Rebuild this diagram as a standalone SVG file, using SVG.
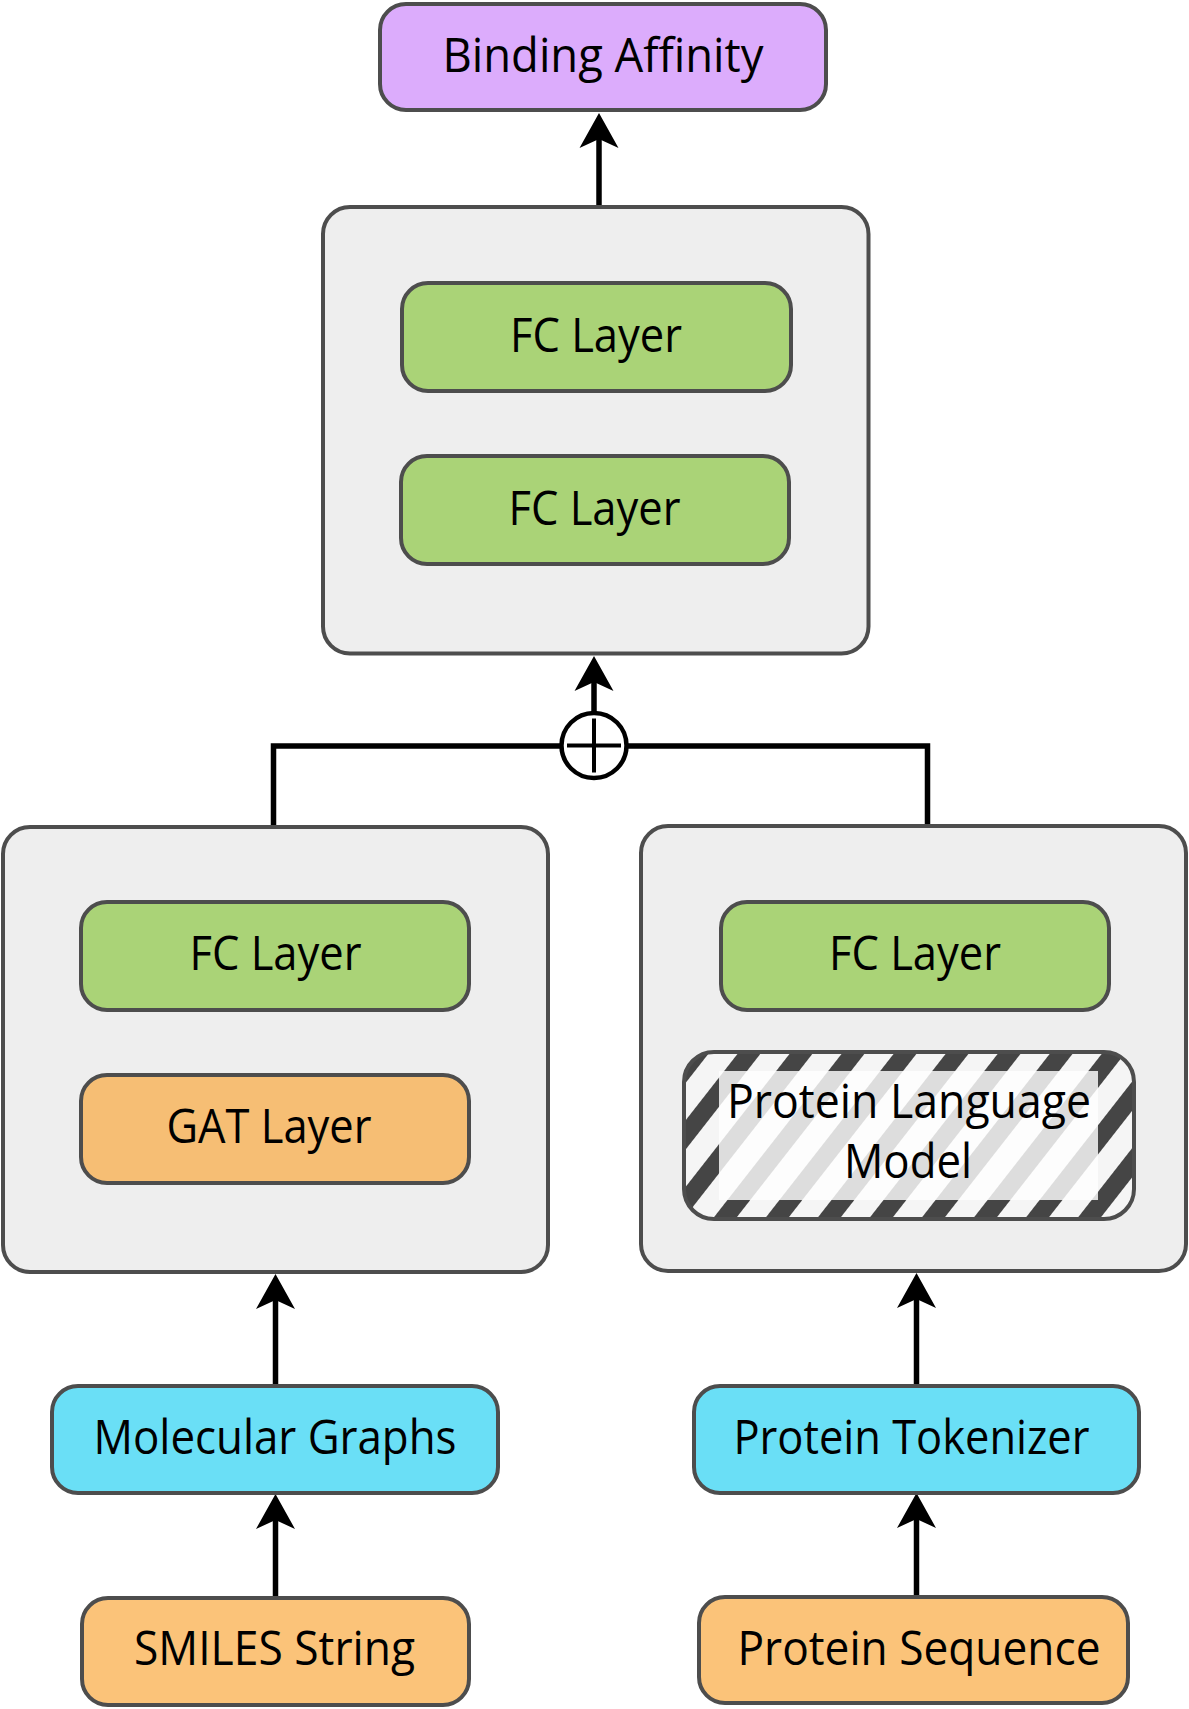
<svg xmlns="http://www.w3.org/2000/svg" width="1189" height="1709" viewBox="0 0 1189 1709">
  <style>
    .box { stroke: #4d4d4d; stroke-width: 4; }
    .container { fill: #eeeeee; stroke: #4d4d4d; stroke-width: 4; }
    .fc { fill: #aad377; }
    .gat { fill: #f6be74; }
    .inp { fill: #fbc379; }
    .cyan { fill: #6adff6; }
    .out { fill: #dcacfc; }
    .lbl { font-family: "Open Sans", "Liberation Sans", sans-serif; font-size: 47px; fill: #000; text-anchor: middle; }
    .conn { fill: none; stroke: #000; stroke-width: 5.5; }
  </style>
  <defs>
    <marker id="arrow" markerUnits="userSpaceOnUse" markerWidth="60" markerHeight="60" viewBox="-20 -30 50 60" refX="0" refY="0" orient="auto" overflow="visible">
      <path d="M22,0 L-13,-19.5 L-4,0 L-13,19.5 Z" fill="#000"/>
    </marker>
    <pattern id="stripes" patternUnits="userSpaceOnUse" width="41" height="41" patternTransform="rotate(38)">
      <rect x="0" y="0" width="41" height="41" fill="#f5f5f5"/>
      <rect x="0" y="0" width="18" height="41" fill="#454545"/>
    </pattern>
  </defs>

  <g id="connectors">
    <path class="conn" d="M599,206 L599,135" marker-end="url(#arrow)"/>
    <path class="conn" d="M594,712 L594,678" marker-end="url(#arrow)"/>
    <path class="conn" d="M273.5,827 V746 H927.5 V826" stroke-linejoin="miter"/>
    <path class="conn" d="M275.5,1386 L275.5,1296" marker-end="url(#arrow)"/>
    <path class="conn" d="M275.5,1598 L275.5,1516" marker-end="url(#arrow)"/>
    <path class="conn" d="M916.5,1386 L916.5,1295" marker-end="url(#arrow)"/>
    <path class="conn" d="M916.5,1597 L916.5,1515" marker-end="url(#arrow)"/>
  </g>

  <g id="concat">
    <circle cx="594" cy="745.5" r="32.5" fill="#ffffff" stroke="#000" stroke-width="4.5"/>
    <path d="M567,745.5 H621 M594,718.5 V772.5" stroke="#000" stroke-width="4" fill="none"/>
  </g>

  <g id="binding-affinity">
    <rect class="box out" x="380" y="4" width="446" height="106" rx="26"/>
    <text class="lbl" x="603" y="72" textLength="321" lengthAdjust="spacingAndGlyphs">Binding Affinity</text>
  </g>

  <g id="top-block">
    <rect class="container" x="323" y="207" width="545.5" height="446.5" rx="27"/>
    <g id="top-fc1">
      <rect class="box fc" x="402" y="283" width="389" height="108" rx="26"/>
      <text class="lbl" x="596" y="352" textLength="172" lengthAdjust="spacingAndGlyphs">FC Layer</text>
    </g>
    <g id="top-fc2">
      <rect class="box fc" x="401" y="456" width="388" height="108" rx="26"/>
      <text class="lbl" x="594.5" y="525" textLength="172" lengthAdjust="spacingAndGlyphs">FC Layer</text>
    </g>
  </g>

  <g id="drug-block">
    <rect class="container" x="3" y="827" width="545" height="445" rx="27"/>
    <g id="drug-fc">
      <rect class="box fc" x="81" y="902" width="388" height="108" rx="26"/>
      <text class="lbl" x="275.5" y="970" textLength="172" lengthAdjust="spacingAndGlyphs">FC Layer</text>
    </g>
    <g id="gat">
      <rect class="box gat" x="81" y="1075" width="388" height="108" rx="26"/>
      <text class="lbl" x="269" y="1143" textLength="205" lengthAdjust="spacingAndGlyphs">GAT Layer</text>
    </g>
  </g>

  <g id="protein-block">
    <rect class="container" x="641" y="826" width="545" height="445" rx="27"/>
    <g id="protein-fc">
      <rect class="box fc" x="721" y="902" width="388" height="108" rx="26"/>
      <text class="lbl" x="915" y="970" textLength="172" lengthAdjust="spacingAndGlyphs">FC Layer</text>
    </g>
    <g id="plm">
      <rect x="684" y="1052" width="450" height="167" rx="30" fill="url(#stripes)" stroke="#4d4d4d" stroke-width="4"/>
      <rect x="719" y="1071" width="379" height="129" fill="#ffffff" fill-opacity="0.82"/>
      <text class="lbl" x="909" y="1118" textLength="364" lengthAdjust="spacingAndGlyphs">Protein Language</text>
      <text class="lbl" x="908" y="1178" textLength="128" lengthAdjust="spacingAndGlyphs">Model</text>
    </g>
  </g>

  <g id="molecular-graphs">
    <rect class="box cyan" x="52" y="1386" width="446" height="107" rx="26"/>
    <text class="lbl" x="275" y="1454" textLength="363" lengthAdjust="spacingAndGlyphs">Molecular Graphs</text>
  </g>

  <g id="smiles">
    <rect class="box inp" x="82" y="1598" width="387" height="107" rx="26"/>
    <text class="lbl" x="274.5" y="1665" textLength="281" lengthAdjust="spacingAndGlyphs">SMILES String</text>
  </g>

  <g id="protein-tokenizer">
    <rect class="box cyan" x="694" y="1386" width="445" height="107" rx="26"/>
    <text class="lbl" x="911.5" y="1454" textLength="356" lengthAdjust="spacingAndGlyphs">Protein Tokenizer</text>
  </g>

  <g id="protein-sequence">
    <rect class="box inp" x="699" y="1597" width="429" height="106" rx="26"/>
    <text class="lbl" x="919" y="1665" textLength="363" lengthAdjust="spacingAndGlyphs">Protein Sequence</text>
  </g>
</svg>
